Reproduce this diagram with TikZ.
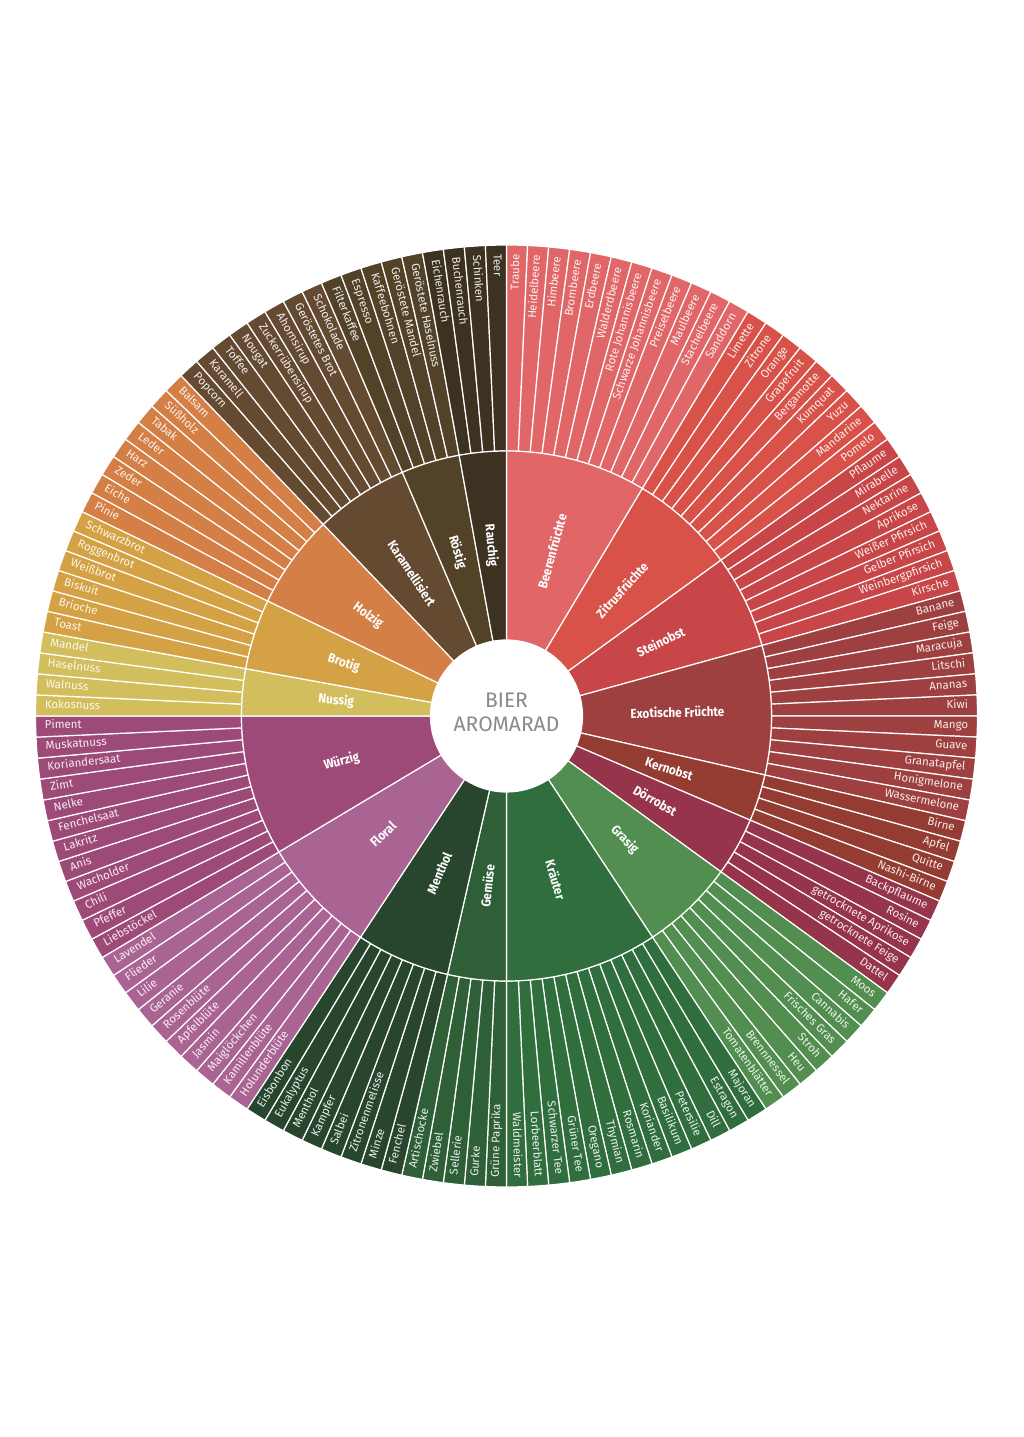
\documentclass[tikz,border=0pt]{standalone}
\usepackage{fontspec}
\setmainfont{Fira Sans}
\newfontfamily\catfont{Fira Sans}[FakeStretch=0.9]
\definecolor{cBeer}{HTML}{E06668}
\definecolor{cZitr}{HTML}{D9524A}
\definecolor{cStein}{HTML}{C84648}
\definecolor{cExot}{HTML}{9E4040}
\definecolor{cKern}{HTML}{943C32}
\definecolor{cDoerr}{HTML}{96344B}
\definecolor{cGras}{HTML}{528E50}
\definecolor{cKraut}{HTML}{306E3E}
\definecolor{cGem}{HTML}{2F5F37}
\definecolor{cMent}{HTML}{28462D}
\definecolor{cFlor}{HTML}{AA6494}
\definecolor{cWuerz}{HTML}{9E4A78}
\definecolor{cNuss}{HTML}{D2BE5C}
\definecolor{cBrot}{HTML}{D4A244}
\definecolor{cHolz}{HTML}{D47F45}
\definecolor{cKaram}{HTML}{654A32}
\definecolor{cRoest}{HTML}{524228}
\definecolor{cRauch}{HTML}{3D3222}
\definecolor{centergray}{HTML}{8A8A8A}
\newcounter{aridx}
\newcounter{arcat}
\tikzset{
  seg/.style={draw=white, line width=1.2pt, line join=miter},
  outlbl/.style={inner sep=0pt, text=white, text opacity=0.9, font=\fontsize{11.5}{13}\selectfont},
  catlbl/.style={inner sep=0pt, text=white, font=\catfont\bfseries\fontsize{13}{15}\selectfont},
  centerlbl/.style={align=center, inner sep=0pt, text=centergray, font=\fontsize{21}{24}\selectfont}
}
\def\dA{2.5714285714}
\def\Ri{76}
\def\Rm{265}
\def\Ro{471}
\newcommand\aromacat[3]{%
  \pgfmathsetmacro\cS{90-\arabic{aridx}*\dA}%
  \foreach \nm in {#3}{%
    \pgfmathsetmacro\aS{90-\arabic{aridx}*\dA}%
    \pgfmathsetmacro\aE{\aS-\dA}%
    \pgfmathsetmacro\aM{\aS-\dA/2}%
    \pgfmathtruncatemacro\oi{\arabic{aridx}}%
    \filldraw[seg, fill=#1] (\aS:\Rm pt) arc[start angle=\aS, end angle=\aE, radius=\Rm pt] -- (\aE:\Ro pt) arc[start angle=\aE, end angle=\aS, radius=\Ro pt] -- cycle;
    \pgfmathsetmacro\Rl{\Ro-9}%
    \pgfmathtruncatemacro\rt{\aM>-90 ? 1 : 0}%
    \ifnum\rt=1
      \node[outlbl, anchor=mid east, rotate=\aM] (item\oi) at (\aM:\Rl pt) {\nm};
    \else
      \pgfmathsetmacro\aR{\aM+180}%
      \node[outlbl, anchor=mid west, rotate=\aR] (item\oi) at (\aM:\Rl pt) {\nm};
    \fi
    \stepcounter{aridx}%
  }%
  \pgfmathsetmacro\cE{90-\arabic{aridx}*\dA}%
  \pgfmathsetmacro\cM{(\cS+\cE)/2}%
  \stepcounter{arcat}%
  \pgfmathtruncatemacro\ci{\arabic{arcat}}%
  \filldraw[seg, fill=#1] (\cS:\Ri pt) arc[start angle=\cS, end angle=\cE, radius=\Ri pt] -- (\cE:\Rm pt) arc[start angle=\cE, end angle=\cS, radius=\Rm pt] -- cycle;
  \pgfmathsetmacro\Rc{171}%
  \pgfmathtruncatemacro\rt{\cM>-90 ? 1 : 0}%
  \ifnum\rt=1
    \node[catlbl, rotate=\cM] (cat\ci) at (\cM:\Rc pt) {#2};
  \else
    \pgfmathsetmacro\cR{\cM+180}%
    \node[catlbl, rotate=\cR] (cat\ci) at (\cM:\Rc pt) {#2};
  \fi
}
\begin{document}
\begin{tikzpicture}
\useasboundingbox[fill=white] (-506.5pt,-721pt) rectangle (517.5pt,716pt);
\aromacat{cBeer}{Beerenfrüchte}{Traube, Heidelbeere, Himbeere, Brombeere, Erdbeere, Walderdbeere, Rote Johannisbeere, Schwarze Johannisbeere, Preiselbeere, Maulbeere, Stachelbeere, Sanddorn}
\aromacat{cZitr}{Zitrusfrüchte}{Limette, Zitrone, Orange, Grapefruit, Bergamotte, Kumquat, Yuzu, Mandarine, Pomelo}
\aromacat{cStein}{Steinobst}{Pflaume, Mirabelle, Nektarine, Aprikose, Weißer Pfirsich, Gelber Pfirsich, Weinbergpfirsich, Kirsche}
\aromacat{cExot}{Exotische Früchte}{Banane, Feige, Maracuja, Litschi, Ananas, Kiwi, Mango, Guave, Granatapfel, Honigmelone, Wassermelone}
\aromacat{cKern}{Kernobst}{Birne, Apfel, Quitte, Nashi-Birne}
\aromacat{cDoerr}{Dörrobst}{Backpflaume, Rosine, getrocknete Aprikose, getrocknete Feige, Dattel}
\aromacat{cGras}{Grasig}{Moos, Hafer, Cannabis, Frisches Gras, Stroh, Heu, Brennnessel, Tomatenblätter}
\aromacat{cKraut}{Kräuter}{Majoran, Estragon, Dill, Petersilie, Basilikum, Koriander, Rosmarin, Thymian, Oregano, Grüner Tee, Schwarzer Tee, Lorbeerblatt, Waldmeister}
\aromacat{cGem}{Gemüse}{Grüne Paprika, Gurke, Sellerie, Zwiebel, Artischocke}
\aromacat{cMent}{Menthol}{Fenchel, Minze, Zitronenmelisse, Salbei, Kampfer, Menthol, Eukalyptus, Eisbonbon}
\aromacat{cFlor}{Floral}{Holunderblüte, Kamillenblüte, Maiglöckchen, Jasmin, Apfelblüte, Rosenblüte, Geranie, Lilie, Flieder, Lavendel}
\aromacat{cWuerz}{Würzig}{Liebstöckel, Pfeffer, Chili, Wacholder, Anis, Lakritz, Fenchelsaat, Nelke, Zimt, Koriandersaat, Muskatnuss, Piment}
\aromacat{cNuss}{Nussig}{Kokosnuss, Walnuss, Haselnuss, Mandel}
\aromacat{cBrot}{Brotig}{Toast, Brioche, Biskuit, Weißbrot, Roggenbrot, Schwarzbrot}
\aromacat{cHolz}{Holzig}{Pinie, Eiche, Zeder, Harz, Leder, Tabak, Süßholz, Balsam}
\aromacat{cKaram}{Karamellisiert}{Popcorn, Karamell, Toffee, Nougat, Zuckerrübensirup, Ahornsirup, Geröstetes Brot, Schokolade}
\aromacat{cRoest}{Röstig}{Filterkaffee, Espresso, Kaffeebohnen, Geröstete Mandel, Geröstete Haselnuss}
\aromacat{cRauch}{Rauchig}{Eichenrauch, Buchenrauch, Schinken, Teer}
\fill[white] (0,0) circle[radius=\Ri pt];
\node[centerlbl] (center) at (0pt,4pt) {BIER\\AROMARAD};
\end{tikzpicture}
\end{document}
